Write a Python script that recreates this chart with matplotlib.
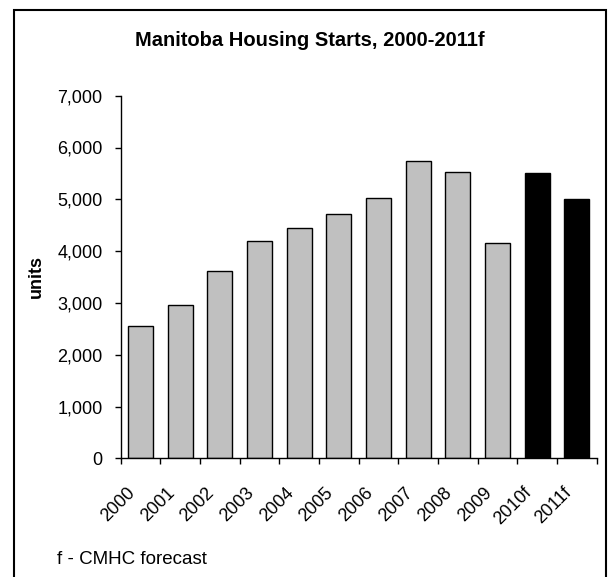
import matplotlib
matplotlib.use("Agg")
import matplotlib.pyplot as plt
import matplotlib.transforms as mtransforms
from matplotlib.patches import Rectangle
from matplotlib.ticker import FuncFormatter, MultipleLocator

years = ["2000", "2001", "2002", "2003", "2004", "2005", "2006", "2007",
         "2008", "2009", "2010f", "2011f"]
starts = [2560, 2950, 3620, 4200, 4440, 4720, 5020, 5740, 5530, 4160, 5500, 5000]
forecast = [False] * 10 + [True] * 2

plt.rcParams["font.family"] = ["Liberation Sans", "DejaVu Sans"]

W, H = 611, 577
fig = plt.figure(figsize=(W / 100, H / 100), dpi=100)

def fx(px):
    return px / W

def fy(py):
    return 1 - py / H

# outer frame around the whole chart
frame = Rectangle((fx(13.5), fy(590)), fx(605.5) - fx(13.5), fy(10.5) - fy(590),
                  transform=fig.transFigure, fill=False, edgecolor="black",
                  linewidth=1.5, zorder=0)
fig.patches.append(frame)

ax = fig.add_axes([fx(120.7), fy(458.3), fx(596.7) - fx(120.7), fy(95.7) - fy(458.3)])

x = list(range(len(years)))
colors = ["black" if f else "#C0C0C0" for f in forecast]
ax.bar(x, starts, width=0.625, color=colors, edgecolor="black", linewidth=1.0, zorder=2)

ax.set_xlim(-0.5, len(years) - 0.5)
ax.set_ylim(0, 7000)
ax.yaxis.set_major_locator(MultipleLocator(1000))
ax.yaxis.set_major_formatter(FuncFormatter(lambda v, p: f"{int(v):,}"))

for side in ("top", "right"):
    ax.spines[side].set_visible(False)
for side in ("left", "bottom"):
    ax.spines[side].set_linewidth(1.0)

ax.tick_params(axis="y", direction="out", length=4, width=1.0, pad=9, labelsize=13)

# category ticks sit on the boundaries between bars
ax.set_xticks([i - 0.5 for i in range(len(years) + 1)])
ax.set_xticklabels([])
ax.tick_params(axis="x", which="major", direction="out", length=4, width=1.0)
ax.set_xticks(x, minor=True)
ax.set_xticklabels(years, minor=True, rotation=45, ha="right", va="center",
                   rotation_mode="anchor", fontsize=13)
ax.tick_params(axis="x", which="minor", length=0, pad=0)
offset = mtransforms.ScaledTranslation(-8 / 100, -32 / 100, fig.dpi_scale_trans)
for lbl in ax.get_xticklabels(minor=True):
    lbl.set_transform(lbl.get_transform() + offset)

ax.set_ylabel("units", fontsize=13, fontweight="bold", labelpad=9)

fig.text(fx(309.5), fy(40), "Manitoba Housing Starts, 2000-2011f", ha="center",
         va="center", fontsize=14.5, fontweight="bold")
fig.text(fx(57), fy(559), "f - CMHC forecast", ha="left", va="center", fontsize=13.5)

fig.savefig("out.png", dpi=100)
